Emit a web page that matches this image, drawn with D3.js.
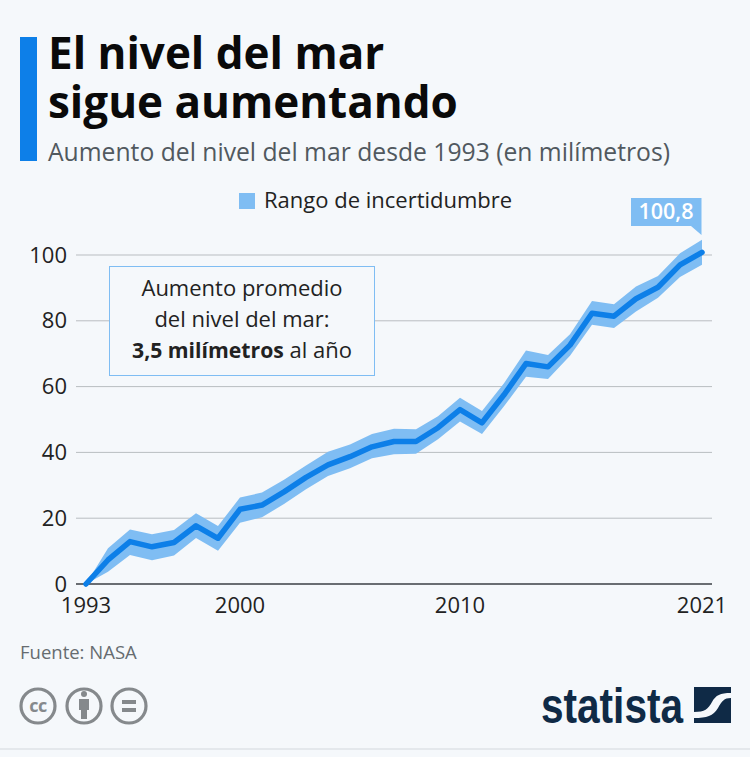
<!DOCTYPE html>
<html>
<head>
<meta charset="utf-8">
<script src="https://cdn.jsdelivr.net/npm/d3@7"></script>
<style>
  html, body { margin: 0; padding: 0; background: #f5f8fb; }
  svg { display: block; font-family: "Open Sans", sans-serif; }
</style>
</head>
<body>
<svg id="chart" width="750" height="757"></svg>
<script>
// valores (mm)
const years = [1993, 1994, 1995, 1996, 1997, 1998, 1999, 2000, 2001, 2002, 2003, 2004, 2005, 2006, 2007,
  2008, 2009, 2010, 2011, 2012, 2013, 2014, 2015, 2016, 2017, 2018, 2019, 2020, 2021];
const mean = [0, 7.3, 12.9, 11.3, 12.6, 17.7, 13.9, 22.7, 24, 28, 32.4, 36.2, 38.7, 41.7, 43.3,
  43.3, 47.5, 53, 49, 57.5, 67, 66, 72.6, 82.3, 81.4, 86.7, 90.2, 97, 100.8];
const upper = [0, 10.9, 16.6, 15.1, 16.4, 21.5, 17.6, 26.3, 27.8, 31.7, 36, 40.2, 42.4, 45.6, 47.2,
  47, 51, 56.6, 52.6, 61, 71, 69.6, 75.9, 86, 85, 90.4, 93.6, 100.5, 104.6];
const lower = [0, 3.7, 8.8, 7.2, 8.7, 14, 10.1, 18.6, 20.3, 24.3, 28.8, 32.8, 35.2, 38.2, 39.4,
  39.6, 44, 49.4, 45.6, 54, 63, 62.3, 69.4, 78.8, 77.8, 82.8, 87, 93.3, 97];
const yTicks = [0, 20, 40, 60, 80, 100];
const xTicks = [1993, 2000, 2010, 2021];
const lastLabel = "100,8";

const svg = d3.select("#chart");
const x = d3.scaleLinear().domain([1993, 2021]).range([86, 702]);
const y = d3.scaleLinear().domain([0, 100]).range([584, 255]);

// cabecera
svg.append("rect").attr("x", 20).attr("y", 37).attr("width", 17).attr("height", 124).attr("fill", "#0d7fe8");
svg.append("text").attr("x", 48).attr("y", 68.5).style("font-size", "44px").style("font-weight", 700)
  .attr("fill", "#0a0a0a").text("El nivel del mar");
svg.append("text").attr("x", 48).attr("y", 117.5).style("font-size", "44px").style("font-weight", 700)
  .attr("fill", "#0a0a0a").text("sigue aumentando");
svg.append("text").attr("x", 48).attr("y", 160.5).style("font-size", "24.7px")
  .attr("fill", "#51595f").text("Aumento del nivel del mar desde 1993 (en milímetros)");

// leyenda
svg.append("rect").attr("x", 239).attr("y", 193).attr("width", 16).attr("height", 16).attr("fill", "#7fbdf3");
svg.append("text").attr("x", 264).attr("y", 208).style("font-size", "22px")
  .attr("fill", "#222").text("Rango de incertidumbre");

// rejilla y eje y
yTicks.forEach((t) => {
  svg.append("line").attr("x1", 76).attr("x2", 712).attr("y1", y(t)).attr("y2", y(t))
    .attr("stroke", t === 0 ? "#3a3f44" : "#b9bdc1").attr("stroke-width", t === 0 ? 1.4 : 1);
  svg.append("text").attr("x", 67).attr("y", y(t) + 7.5).attr("text-anchor", "end")
    .style("font-size", "22px").attr("fill", "#222").text(t);
});

// eje x
xTicks.forEach((t) => {
  svg.append("text").attr("x", x(t)).attr("y", 613).attr("text-anchor", "middle")
    .style("font-size", "22px").attr("fill", "#222").text(t);
});

// banda de incertidumbre
const band = d3.area().x((d, i) => x(years[i])).y0((d, i) => y(lower[i])).y1((d, i) => y(upper[i]));
svg.append("path").attr("d", band(years)).attr("fill", "#7fbdf3");

// linea media
const line = d3.line().x((d, i) => x(years[i])).y((d) => y(d));
svg.append("path").attr("d", line(mean)).attr("fill", "none")
  .attr("stroke", "#0d7fe8").attr("stroke-width", 5.5).attr("stroke-linejoin", "round").attr("stroke-linecap", "round");

// etiqueta del ultimo valor
const lx = x(2021), ly = 198;
svg.append("path")
  .attr("d", `M${lx - 71},${ly} H${lx - 0.5} V${ly + 37} L${lx - 11},${ly + 28} H${lx - 71} Z`)
  .attr("fill", "#7fbdf3");
svg.append("text").attr("x", lx - 36).attr("y", ly + 21).attr("text-anchor", "middle")
  .style("font-size", "21.5px").style("font-weight", 600).attr("fill", "#fff").text(lastLabel);

// caja de anotacion
svg.append("rect").attr("x", 109.5).attr("y", 266.5).attr("width", 265).attr("height", 109)
  .attr("fill", "#f5f8fb").attr("stroke", "#7fbdf3").attr("stroke-width", 1);
svg.append("text").attr("x", 242).attr("y", 296).attr("text-anchor", "middle").style("font-size", "22px")
  .attr("fill", "#222").text("Aumento promedio");
svg.append("text").attr("x", 242).attr("y", 327).attr("text-anchor", "middle").style("font-size", "22px")
  .attr("fill", "#222").text("del nivel del mar:");
const note = svg.append("text").attr("x", 242).attr("y", 358).attr("text-anchor", "middle")
  .style("font-size", "22px").attr("fill", "#222");
note.append("tspan").style("font-weight", 700).style("font-size", "21.2px").text("3,5 milímetros");
note.append("tspan").text(" al año");

// fuente
svg.append("text").attr("x", 20).attr("y", 659).style("font-size", "18.5px")
  .attr("fill", "#666c70").text("Fuente: NASA");

// iconos cc
const iconY = 706, grey = "#85898c";
[38, 84, 129].forEach((cx) => {
  svg.append("circle").attr("cx", cx).attr("cy", iconY).attr("r", 17)
    .attr("fill", "none").attr("stroke", grey).attr("stroke-width", 3.2);
});
svg.append("text").attr("x", 38).attr("y", iconY + 6).attr("text-anchor", "middle")
  .style("font-size", "18px").style("font-weight", 700).style("letter-spacing", "-0.5px")
  .attr("fill", grey).text("cc");
svg.append("circle").attr("cx", 84).attr("cy", iconY - 12).attr("r", 3).attr("fill", grey);
svg.append("path").attr("d", `M79,${iconY - 7} H89 V${iconY + 4} H87 V${iconY + 13} H81 V${iconY + 4} H79 Z`).attr("fill", grey);
svg.append("rect").attr("x", 122).attr("y", iconY - 6).attr("width", 14).attr("height", 4).attr("fill", grey);
svg.append("rect").attr("x", 122).attr("y", iconY + 2).attr("width", 14).attr("height", 4).attr("fill", grey);

// logo statista
svg.append("text").attr("x", 541).attr("y", 723).attr("textLength", 142).attr("lengthAdjust", "spacingAndGlyphs")
  .style("font-family", '"Liberation Sans", sans-serif')
  .style("font-size", "50px").style("font-weight", 700).attr("fill", "#0f2a46").text("statista");
svg.append("rect").attr("x", 694).attr("y", 687).attr("width", 37).attr("height", 36).attr("fill", "#0f2a46");
svg.append("path").attr("d", "M694,712 C705,712 708,709 712,702 C716,695 720,693 731,693 V698 C724,698 722,701 718,708 C713,716 707,718 694,718 Z")
  .attr("fill", "#f5f8fb");

// linea inferior
svg.append("rect").attr("x", 0).attr("y", 748).attr("width", 750).attr("height", 2).attr("fill", "#e4e8ec");
</script>
</body>
</html>
